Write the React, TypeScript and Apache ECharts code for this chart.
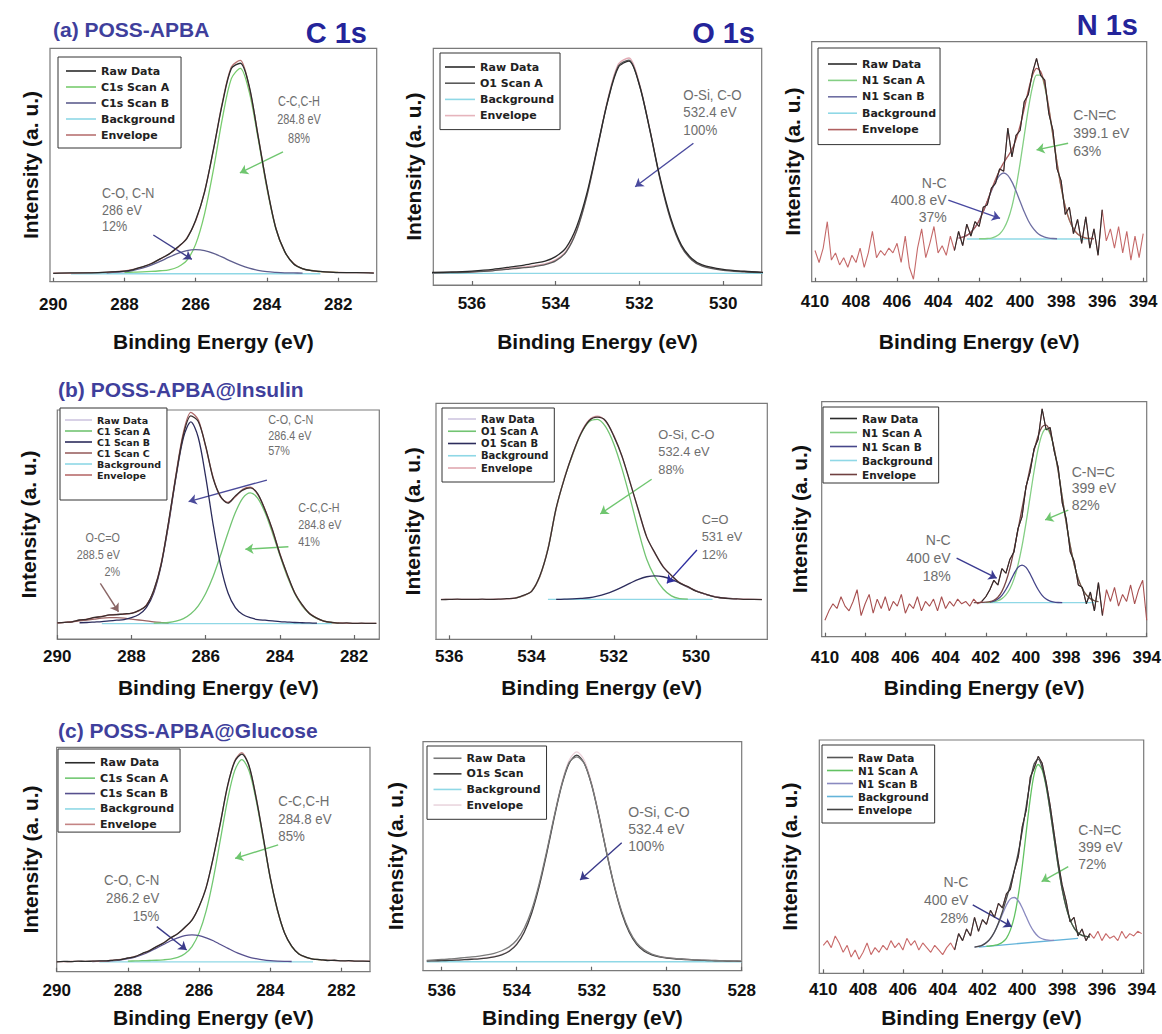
import React, { useEffect, useRef } from "react";
import * as echarts from "echarts";

// ---------------- tick labels ----------------
const C1S_TICKS = [290, 288, 286, 284, 282];
const O1S_TICKS_AB = [536, 534, 532, 530];
const O1S_TICKS_C = [536, 534, 532, 530, 528];
const N1S_TICKS = [410, 408, 406, 404, 402, 400, 398, 396, 394];

// ---------------- (a) POSS-APBA : C 1s ----------------
const C1S_A_X = [290, 289.5, 289, 288.5, 288, 287.75, 287.5, 287.25, 287, 286.75, 286.5, 286.25, 286, 285.75, 285.5, 285.25, 285, 284.75, 284.5, 284.25, 284, 283.75, 283.5, 283.25, 283, 282.75, 282.5, 282, 281.5, 281];
const C1S_A_RAW = [3.6, 3.8, 3.8, 4.1, 4.5, 5.2, 6.4, 7.7, 9.8, 11.8, 14.9, 18.5, 26.4, 38.5, 56.9, 76.4, 91.3, 93.6, 83.9, 62.4, 40.8, 22.8, 12.9, 7.6, 5.6, 4.7, 4.4, 3.9, 3.9, 3.7];
const C1S_A_SCAN_A = [null, null, null, null, 4.0, 4.1, 4.2, 4.4, 4.7, 5.1, 6.3, 9.1, 16.1, 29.2, 48.2, 70.1, 87.0, 91.4, 81.4, 61.5, 39.9, 22.7, 12.7, 7.7, 5.5, 4.8, 4.3, 4.0, null, null];
const C1S_A_SCAN_B = [null, null, null, 3.8, 4.3, 4.9, 5.8, 7.1, 8.7, 10.5, 12.1, 13.3, 13.7, 13.3, 12.1, 10.5, 8.7, 7.1, 5.8, 4.9, 4.3, 4.0, 3.8, 3.75, 3.7, null, null, null, null, null];
const C1S_A_ENV = [3.7, 3.7, 3.9, 4.0, 4.6, 5.3, 6.3, 7.8, 9.7, 11.9, 14.7, 18.7, 26.1, 38.8, 56.6, 76.9, 92.0, 94.8, 83.5, 62.7, 40.5, 23.0, 12.8, 7.8, 5.5, 4.8, 4.3, 4.0, 3.9, 3.8];
const C1S_A_BG_X = [289.5, 282.5];
const C1S_A_BG = [3.4, 3.4];

// ---------------- (a) POSS-APBA : O 1s ----------------
const O1S_A_X = [537, 536.5, 536, 535.5, 535, 534.75, 534.5, 534.25, 534, 533.75, 533.5, 533.25, 533, 532.75, 532.5, 532.25, 532, 531.75, 531.5, 531.25, 531, 530.75, 530.5, 530, 529.5, 529];
const O1S_A_RAW = [5.3, 5.5, 5.9, 6.6, 7.8, 8.4, 9.2, 10.1, 12.0, 15.8, 24.5, 39.0, 58.5, 78.0, 92.0, 94.6, 84.5, 65.5, 44.8, 28.2, 17.0, 11.2, 8.5, 6.6, 5.8, 5.3];
const O1S_A_SCAN_A = [5.0, 5.2, 5.5, 6.0, 6.9, 7.3, 7.8, 8.6, 10.2, 13.9, 22.7, 37.8, 57.9, 78.3, 92.6, 95.0, 84.6, 65.3, 44.1, 27.3, 16.3, 10.6, 8.0, 6.2, 5.6, 5.2];
const O1S_A_ENV = [5.1, 5.3, 5.6, 6.2, 7.2, 7.6, 8.2, 8.9, 10.6, 14.3, 23.1, 38.1, 58.2, 78.8, 93.4, 95.9, 85.2, 65.7, 44.4, 27.6, 16.5, 10.8, 8.2, 6.4, 5.7, 5.3];
const O1S_A_BG_X = [537, 529];
const O1S_A_BG = [4.9, 4.9];

// ---------------- N 1s shared energy grids ----------------
const N1S_X = [410, 409.8, 409.6, 409.4, 409.2, 409, 408.8, 408.6, 408.4, 408.2, 408, 407.8, 407.6, 407.4, 407.2, 407, 406.8, 406.6, 406.4, 406.2, 406, 405.8, 405.6, 405.4, 405.2, 405, 404.8, 404.6, 404.4, 404.2, 404, 403.8, 403.6, 403.4, 403.2, 403, 402.8, 402.6, 402.4, 402.2, 402, 401.8, 401.6, 401.4, 401.2, 401, 400.8, 400.6, 400.4, 400.2, 400, 399.8, 399.6, 399.4, 399.2, 399, 398.8, 398.6, 398.4, 398.2, 398, 397.8, 397.6, 397.4, 397.2, 397, 396.8, 396.6, 396.4, 396.2, 396, 395.8, 395.6, 395.4, 395.2, 395, 394.8, 394.6, 394.4, 394.2, 394];
const N1S_FIT_X = [403, 402.8, 402.6, 402.4, 402.2, 402, 401.8, 401.6, 401.4, 401.2, 401, 400.8, 400.6, 400.4, 400.2, 400, 399.8, 399.6, 399.4, 399.2, 399, 398.8, 398.6, 398.4, 398.2, 398, 397.8, 397.6, 397.4, 397.2, 397, 396.8, 396.6, 396.4];

// ---------------- (a) POSS-APBA : N 1s ----------------
const N1S_A_RAW = [13, 8, 14, 25, 9, 12, 7, 10, 6, 11, 8, 14, 6, 12, 21, 10, 13, 11, 14, 12, 16, 8, 19, 6, 1, 14, 22, 10, 16, 23, 12, 15, 11, 19, 13, 21, 15, 24, 19, 25, 23, 31, 32, 39, 41, 47, 46, 64, 52, 61, 63, 75, 78, 87, 93, 86, 84, 70, 63, 47, 42, 28, 31, 20, 26, 16, 27, 14, 22, 11, 30, 17, 22, 14, 23, 12, 21, 9, 19, 10, 20];
const N1S_A_ENV = [18.2, 18.6, 19.3, 20.6, 22.6, 25.4, 29.2, 33.6, 38.2, 42.6, 46.4, 49.6, 52.2, 55.1, 59.3, 65.0, 72.1, 79.6, 85.9, 88.9, 87.6, 81.9, 72.4, 61.0, 49.5, 39.3, 31.3, 25.7, 22.1, 19.9, 18.8, 18.2, 18.0, 17.9];
const N1S_A_SCAN_A = [null, null, null, null, null, 17.9, 17.9, 18.0, 18.2, 18.8, 19.9, 22.05, 25.7, 31.3, 39.3, 49.4, 60.8, 72.0, 81.1, 86.1, 86.1, 81.1, 72.0, 60.8, 49.4, 39.3, 31.3, 25.7, 22.05, 19.9, 18.8, 18.2, 18.0, null];
const N1S_A_SCAN_B = [18.2, 18.6, 19.3, 20.6, 22.6, 25.4, 29.1, 33.4, 37.8, 41.6, 44.3, 45.3, 44.3, 41.6, 37.8, 33.4, 29.1, 25.4, 22.6, 20.6, 19.3, 18.6, 18.2, 18.0, 17.9, null, null, null, null, null, null, null, null, null];
const N1S_A_BG_X = [402.6, 396.6];
const N1S_A_BG = [17.8, 17.8];

// ---------------- (b) POSS-APBA@Insulin : C 1s ----------------
const C1S_B_X = [290, 289.8, 289.6, 289.4, 289.2, 289, 288.8, 288.6, 288.4, 288.2, 288, 287.8, 287.6, 287.4, 287.2, 287, 286.8, 286.6, 286.4, 286.2, 286, 285.8, 285.6, 285.4, 285.2, 285, 284.8, 284.6, 284.4, 284.2, 284, 283.8, 283.6, 283.4, 283.2, 283, 282.8, 282.6, 282.4, 282.2, 282, 281.8, 281.6, 281.4];
const C1S_B_RAW = [7.0, 7.3, 7.5, 8.3, 8.6, 9.4, 9.8, 10.5, 10.6, 11.0, 11.2, 12.5, 14.6, 21.3, 32.6, 51.2, 71.4, 89.2, 97.4, 95.0, 84.3, 70.2, 62.3, 59.3, 62.5, 65.0, 66.0, 63.5, 56.3, 47.7, 37.0, 28.2, 20.1, 15.0, 11.0, 9.1, 7.7, 7.3, 6.9, 7.0, 6.8, 6.9, 6.8, 6.8];
const C1S_B_SCAN_A = [null, null, null, null, null, null, null, null, null, null, null, null, null, 6.9, 7.0, 7.2, 7.8, 8.9, 11.0, 14.5, 19.9, 27.3, 36.5, 46.3, 55.2, 61.5, 63.8, 61.5, 55.2, 46.3, 36.5, 27.3, 19.9, 14.5, 11.0, 8.9, 7.8, 7.2, 7.0, null, null, null, null, null];
const C1S_B_SCAN_B = [null, null, null, 7.1, 7.2, 7.4, 7.6, 7.9, 8.2, 8.5, 9.3, 10.7, 13.7, 20.2, 32.3, 50.1, 70.8, 88.0, 94.8, 88.0, 70.8, 50.1, 32.3, 20.2, 13.7, 10.7, 9.3, 8.5, 8.2, 7.9, 7.6, 7.4, 7.2, 7.1, 7.0, 6.9, null, null, null, null, null, null, null, null];
const C1S_B_SCAN_C = [7.05, 7.25, 7.5, 7.9, 8.3, 8.7, 9.1, 9.3, 9.3, 9.1, 8.7, 8.3, 7.9, 7.5, 7.25, 7.05, null, null, null, null, null, null, null, null, null, null, null, null, null, null, null, null, null, null, null, null, null, null, null, null, null, null, null, null];
const C1S_B_ENV = [7.05, 7.25, 7.53, 8.2, 8.7, 9.3, 9.9, 10.4, 10.7, 10.8, 11.3, 12.3, 14.8, 21.0, 33.0, 50.8, 71.9, 90.2, 99.0, 95.7, 83.9, 70.6, 62.0, 59.7, 62.1, 65.4, 66.3, 63.2, 56.6, 47.4, 37.3, 27.9, 20.3, 14.8, 11.2, 9.0, 7.8, 7.2, 7.0, 6.9, 6.8, 6.8, 6.8, 6.8];
const C1S_B_BG_X = [288.8, 282.6];
const C1S_B_BG = [6.7, 6.7];

// ---------------- (b) POSS-APBA@Insulin : O 1s ----------------
const O1S_B_X = [536.2, 536, 535.8, 535.6, 535.4, 535.2, 535, 534.8, 534.6, 534.4, 534.2, 534, 533.8, 533.6, 533.4, 533.2, 533, 532.8, 532.6, 532.4, 532.2, 532, 531.8, 531.6, 531.4, 531.2, 531, 530.8, 530.6, 530.4, 530.2, 530, 529.8, 529.6, 529.4, 529.2, 529, 528.8, 528.6, 528.4];
const O1S_B_RAW = [16.8, 16.9, 17.0, 16.9, 16.9, 17.0, 16.9, 17.0, 17.2, 17.4, 18.6, 20.2, 26.7, 38.1, 55.7, 68.1, 78.6, 87.1, 92.6, 94.1, 92.6, 86.1, 77.6, 66.2, 54.7, 43.3, 36.6, 30.7, 27.1, 23.9, 22.3, 20.4, 19.3, 18.2, 17.6, 17.2, 17.1, 16.9, 16.9, 16.8];
const O1S_B_SCAN_A = [null, null, null, null, null, null, null, null, null, 17.5, 18.4, 20.4, 26.4, 38.4, 55.4, 68.3, 78.2, 87.0, 92.2, 93.2, 90.1, 82.8, 72.2, 59.5, 45.9, 33.9, 26.4, 21.3, 18.4, 17.2, 17.0, null, null, null, null, null, null, null, null, null];
const O1S_B_SCAN_B = [null, null, null, null, null, null, null, null, null, null, null, null, null, null, 16.9, 17.0, 17.1, 17.3, 17.6, 18.25, 19.2, 20.5, 22.1, 23.8, 25.4, 26.5, 26.9, 26.5, 25.4, 23.8, 22.1, 20.5, 19.2, 18.25, 17.6, 17.3, 17.1, null, null, null];
const O1S_B_ENV = [16.9, 16.9, 16.9, 16.9, 16.9, 16.9, 16.95, 17.0, 17.1, 17.5, 18.4, 20.4, 26.4, 38.4, 55.4, 68.4, 78.4, 87.4, 92.9, 94.6, 92.4, 86.4, 77.4, 66.4, 54.4, 43.5, 36.4, 30.9, 26.9, 24.1, 22.2, 20.5, 19.2, 18.25, 17.6, 17.3, 17.1, 17.0, 16.9, 16.9];
const O1S_B_BG_X = [533.6, 529.6];
const O1S_B_BG = [16.9, 16.9];

// ---------------- (b) POSS-APBA@Insulin : N 1s ----------------
const N1S_B_RAW = [7, 11, 14, 12, 17, 13, 11, 15, 20, 9, 14, 18, 10, 16, 12, 17, 11, 15, 13, 18, 10, 14, 12, 17, 11, 15, 13, 16, 11, 17, 12, 15, 13, 16, 14, 15, 13, 16, 14, 15, 17, 20, 24, 22, 29, 27, 33, 36, 46, 51, 64, 70, 80, 84, 97, 88, 89, 79, 72, 57, 50, 36, 32, 22, 21, 14, 19, 11, 23, 9, 20, 15, 21, 13, 18, 15, 22, 14, 20, 24, 7];
const N1S_B_ENV = [null, null, 14.5, 14.5, 14.6, 14.7, 14.9, 15.5, 16.8, 19.3, 23.4, 29.2, 36.8, 45.5, 54.5, 63.4, 71.7, 79.2, 85.4, 89.3, 90.0, 86.8, 80.0, 70.4, 59.4, 48.4, 38.5, 30.5, 24.5, 20.4, 17.8, 16.2, 15.3, 14.9];
const N1S_B_SCAN_A = [null, null, null, null, null, 14.6, 14.65, 14.9, 15.3, 16.2, 17.8, 20.4, 24.5, 30.5, 38.5, 48.4, 59.4, 70.4, 79.8, 86.2, 88.5, 86.2, 79.8, 70.4, 59.4, 48.4, 38.5, 30.5, 24.5, 20.4, 17.8, 16.2, 15.3, 14.9];
const N1S_B_SCAN_B = [null, null, null, null, null, null, 14.7, 15.1, 16.0, 17.6, 20.1, 23.3, 26.8, 29.5, 30.5, 29.5, 26.8, 23.3, 20.1, 17.6, 16.0, 15.1, 14.7, 14.55, 14.5, null, null, null, null, null, null, null, null, null];
const N1S_B_BG_X = [402.2, 396.6];
const N1S_B_BG = [14.5, 14.5];

// ---------------- (c) POSS-APBA@Glucose : C 1s ----------------
const C1S_C_X = [290, 289.8, 289.6, 289.4, 289.2, 289, 288.8, 288.6, 288.4, 288.2, 288, 287.8, 287.6, 287.4, 287.2, 287, 286.8, 286.6, 286.4, 286.2, 286, 285.8, 285.6, 285.4, 285.2, 285, 284.8, 284.6, 284.4, 284.2, 284, 283.8, 283.6, 283.4, 283.2, 283, 282.8, 282.6, 282.4, 282.2, 282, 281.8, 281.6, 281.4, 281.2];
const C1S_C_RAW = [4.4, 4.6, 4.5, 4.7, 4.6, 4.7, 4.8, 4.8, 5.2, 5.4, 6.1, 6.7, 8.1, 9.3, 11.2, 12.8, 15.1, 16.9, 19.8, 23.0, 29.1, 37.6, 51.1, 66.4, 82.9, 93.6, 97.0, 91.9, 77.6, 60.1, 41.7, 27.6, 17.2, 11.4, 7.9, 6.5, 5.6, 5.4, 5.0, 5.1, 4.8, 4.9, 4.7, 4.7, 4.6];
const C1S_C_SCAN_A = [null, null, null, null, null, null, null, null, null, null, 4.75, 4.8, 4.9, 5.0, 5.1, 5.3, 5.65, 6.4, 8.0, 11.2, 17.3, 27.2, 41.5, 59.1, 76.6, 89.6, 94.5, 89.6, 76.6, 59.1, 41.5, 27.2, 17.3, 11.2, 8.0, 6.4, 5.65, 5.3, 5.1, null, null, null, null, null, null];
const C1S_C_SCAN_B = [null, null, null, null, null, 4.55, 4.6, 4.7, 4.9, 5.25, 5.8, 6.5, 7.6, 8.9, 10.5, 12.1, 13.8, 15.1, 16.1, 16.4, 16.1, 15.1, 13.8, 12.1, 10.5, 8.9, 7.6, 6.5, 5.8, 5.25, 4.9, 4.7, 4.6, 4.55, null, null, null, null, null, null, null, null, null, null, null];
const C1S_C_ENV = [4.5, 4.5, 4.55, 4.6, 4.6, 4.65, 4.7, 4.85, 5.1, 5.45, 6.05, 6.8, 8.0, 9.4, 11.1, 12.9, 15.0, 17.0, 19.6, 23.1, 28.9, 37.8, 50.8, 66.7, 82.6, 94.0, 97.6, 91.6, 77.9, 59.85, 41.9, 27.4, 17.4, 11.25, 8.0, 6.4, 5.65, 5.3, 5.1, 5.0, 4.9, 4.8, 4.75, 4.7, 4.7];
const C1S_C_BG_X = [288.8, 282.8];
const C1S_C_BG = [4.4, 4.4];

// ---------------- (c) POSS-APBA@Glucose : O 1s ----------------
const O1S_C_X = [536.4, 536.2, 536, 535.8, 535.6, 535.4, 535.2, 535, 534.8, 534.6, 534.4, 534.2, 534, 533.8, 533.6, 533.4, 533.2, 533, 532.8, 532.6, 532.4, 532.2, 532, 531.8, 531.6, 531.4, 531.2, 531, 530.8, 530.6, 530.4, 530.2, 530, 529.8, 529.6, 529.4, 529.2, 529, 528.8, 528.6, 528.4, 528.2, 528];
const O1S_C_RAW = [4.5, 4.7, 4.9, 5.1, 5.4, 5.7, 6.0, 6.4, 6.9, 7.6, 8.7, 10.4, 13.4, 18.5, 26.6, 38.1, 52.2, 67.5, 81.3, 91.0, 93.4, 90.5, 81.1, 67.1, 51.5, 37.4, 25.9, 17.5, 12.1, 9.1, 7.3, 6.3, 5.7, 5.4, 5.1, 4.9, 4.7, 4.6, 4.5, 4.4, 4.3, 4.2, 4.2];
const O1S_C_SCAN = [4.2, 4.3, 4.4, 4.5, 4.6, 4.8, 5.0, 5.2, 5.5, 6.0, 6.9, 8.5, 11.5, 16.8, 25.2, 36.9, 51.2, 66.8, 80.9, 90.6, 94.1, 90.6, 80.9, 66.8, 51.2, 36.9, 25.2, 16.8, 11.5, 8.5, 6.9, 6.0, 5.5, 5.2, 5.0, 4.8, 4.6, 4.5, 4.4, 4.3, 4.2, 4.15, 4.1];
const O1S_C_ENV = [4.3, 4.4, 4.5, 4.6, 4.75, 4.9, 5.1, 5.4, 5.7, 6.2, 7.1, 8.8, 11.8, 17.1, 25.5, 37.2, 51.6, 67.4, 81.8, 91.9, 95.6, 91.9, 81.8, 67.4, 51.6, 37.2, 25.5, 17.1, 11.8, 8.8, 7.1, 6.2, 5.7, 5.4, 5.1, 4.9, 4.75, 4.6, 4.5, 4.4, 4.3, 4.25, 4.2];
const O1S_C_BG_X = [536.4, 528];
const O1S_C_BG = [3.9, 3.9];

// ---------------- (c) POSS-APBA@Glucose : N 1s ----------------
const N1S_C_RAW = [12, 14, 11, 16, 13, 9, 12, 7, 10, 6, 9, 13, 8, 11, 9, 12, 10, 14, 11, 13, 10, 15, 12, 14, 10, 13, 11, 9, 12, 10, 8, 11, 13, 10, 17, 14, 19, 16, 24, 18, 23, 21, 27, 24, 30, 28, 34, 36, 44, 50, 63, 70, 84, 88, 93, 90, 82, 72, 60, 48, 38, 31, 22, 24, 16, 19, 14, 17, 15, 18, 14, 17, 15, 16, 14, 18, 15, 17, 16, 18, 17];
const N1S_C_ENV = [null, null, null, 11.2, 11.5, 12.1, 13.2, 15.0, 17.7, 21.6, 26.4, 31.9, 37.9, 44.2, 51.8, 61.1, 71.8, 82.2, 89.8, 91.8, 88.2, 80.5, 69.7, 57.85, 46.25, 36.2, 28.45, 23.0, 19.45, 17.4, 16.25, 15.8, 15.65, null];
const N1S_C_SCAN_A = [null, null, null, null, null, null, 11.6, 11.75, 12.0, 12.4, 13.3, 15.0, 18.5, 24.3, 33.5, 46.0, 60.7, 74.9, 85.5, 89.5, 87.1, 80.0, 69.6, 57.8, 46.25, 36.2, 28.45, 23.0, 19.45, 17.4, 16.25, 15.8, 15.65, null];
const N1S_C_SCAN_B = [null, null, null, 11.2, 11.5, 12.1, 13.2, 14.9, 17.6, 21.2, 25.3, 29.2, 31.9, 32.5, 31.1, 28.0, 24.2, 20.5, 17.7, 15.8, 14.8, 14.3, 14.1, 14.15, null, null, null, null, null, null, null, null, null, null];
const N1S_C_BG_X = [402.2, 397.2];
const N1S_C_BG = [11.25, 15.0];

// ---------------- styling / layout ----------------
const FONT = '"Liberation Sans", Arial, Helvetica, sans-serif';
const LFONT = '"DejaVu Sans", "Liberation Sans", sans-serif';
const BG_C = "#8fd8e6";
const GREEN_ARROW = "#6fc66f";
const NOTE_C = "#6e6e6e";

type Curve = { name: string; xs: number[]; ys: (number | null)[]; color: string; noisy?: boolean; range?: [number, number]; width?: number };

const PANELS: any[] = [
  {
    grid: { left: 50, top: 48.3, width: 326.7, height: 233.4 }, x: [280.92, 290.09], ticks: C1S_TICKS, labelMargin: 14, xNameGap: 48.8, yNameGap: 9,
    curves: [
      { name: "Background", xs: C1S_A_BG_X, ys: C1S_A_BG, color: BG_C },
      { name: "C1s Scan A", xs: C1S_A_X, ys: C1S_A_SCAN_A, color: "#78cc6e" },
      { name: "C1s Scan B", xs: C1S_A_X, ys: C1S_A_SCAN_B, color: "#5e5e8e" },
      { name: "Envelope", xs: C1S_A_X, ys: C1S_A_ENV, color: "#b87272" },
      { name: "Raw Data", xs: C1S_A_X, ys: C1S_A_RAW, color: "#2b2b2b" },
    ],
    legend: { left: 58, top: 57, padding: [8, 6, 7, 8], iw: 30, gap: 4, fs: 11, lh: 12,
      items: [["Raw Data", "#2b2b2b"], ["C1s Scan A", "#78cc6e"], ["C1s Scan B", "#5e5e8e"], ["Background", BG_C], ["Envelope", "#b87272"]] },
    arrows: [
      { from: [283.55, 55.6], to: [284.76, 46.6], color: GREEN_ARROW },
      { from: [287.19, 20.0], to: [286.11, 9.6], color: "#3e3e8a" },
    ],
    notes: [
      { text: "C-C,C-H\n284.8 eV\n88%", x: 299, y: 101.7, align: "center", lh: 18.3, fs: 14, sx: 0.78 },
      { text: "C-O, C-N\n286 eV\n12%", x: 102, y: 193.3, align: "left", lh: 16.7, fs: 14, sx: 0.9 },
    ],
  },
  {
    grid: { left: 433.3, top: 48.3, width: 328.4, height: 236.7 }, x: [529.08, 536.92], ticks: O1S_TICKS_AB, labelMargin: 10, xNameGap: 45.5, yNameGap: 9,
    curves: [
      { name: "Background", xs: O1S_A_BG_X, ys: O1S_A_BG, color: BG_C },
      { name: "Envelope", xs: O1S_A_X, ys: O1S_A_ENV, color: "#e2aab4" },
      { name: "O1 Scan A", xs: O1S_A_X, ys: O1S_A_SCAN_A, color: "#5a5a5a" },
      { name: "Raw Data", xs: O1S_A_X, ys: O1S_A_RAW, color: "#2b2b2b" },
    ],
    legend: { left: 440, top: 53, padding: [8, 6, 8, 5], iw: 30, gap: 4.2, fs: 11, lh: 12,
      items: [["Raw Data", "#2b2b2b"], ["O1 Scan A", "#5a5a5a"], ["Background", BG_C], ["Envelope", "#e6b4bc"]] },
    arrows: [{ from: [530.71, 59.9], to: [532.1, 41.5], color: "#4a4a9e" }],
    notes: [{ text: "O-Si, C-O\n532.4 eV\n100%", x: 683.3, y: 95, align: "left", lh: 17.5, fs: 14, sx: 0.95 }],
  },
  {
    grid: { left: 811.7, top: 41.7, width: 335, height: 240 }, x: [393.83, 410.16], ticks: N1S_TICKS, labelMargin: 11, xNameGap: 48.8, yNameGap: 9,
    curves: [
      { name: "Raw Data", xs: N1S_X, ys: N1S_A_RAW, color: "#c56a6a", noisy: true, width: 1.1 },
      { name: "Background", xs: N1S_A_BG_X, ys: N1S_A_BG, color: BG_C },
      { name: "N1 Scan A", xs: N1S_FIT_X, ys: N1S_A_SCAN_A, color: "#84cf84" },
      { name: "N1 Scan B", xs: N1S_FIT_X, ys: N1S_A_SCAN_B, color: "#6e6ea2" },
      { name: "Envelope", xs: N1S_FIT_X, ys: N1S_A_ENV, color: "#a85a5a" },
      { name: "Raw Data", xs: N1S_X, ys: N1S_A_RAW, color: "#2b2b2b", noisy: true, range: [396.0, 403.2], width: 1.1 },
    ],
    legend: { left: 818, top: 48, padding: [10, 4, 9, 10], iw: 29, gap: 4.4, fs: 11, lh: 12,
      items: [["Raw Data", "#2b2b2b"], ["N1 Scan A", "#84cf84"], ["N1 Scan B", "#6e6ea2"], ["Background", BG_C], ["Envelope", "#b06060"]] },
    arrows: [
      { from: [397.66, 57.7], to: [399.2, 54.9], color: GREEN_ARROW },
      { from: [403.5, 34.0], to: [400.98, 26.4], color: "#4848a0" },
    ],
    notes: [
      { text: "C-N=C\n399.1 eV\n63%", x: 1073.3, y: 115, align: "left", lh: 17.8, fs: 14, sx: 1 },
      { text: "N-C\n400.8 eV\n37%", x: 946.7, y: 183.3, align: "right", lh: 16.7, fs: 14, sx: 1 },
    ],
  },
  {
    grid: { left: 57.3, top: 410, width: 322, height: 229 }, x: [281.32, 290], ticks: C1S_TICKS, labelMargin: 9, xNameGap: 37.5, yNameGap: 18,
    curves: [
      { name: "Background", xs: C1S_B_BG_X, ys: C1S_B_BG, color: BG_C },
      { name: "C1 Scan C", xs: C1S_B_X, ys: C1S_B_SCAN_C, color: "#9a6262" },
      { name: "C1 Scan A", xs: C1S_B_X, ys: C1S_B_SCAN_A, color: "#72c472" },
      { name: "C1 Scan B", xs: C1S_B_X, ys: C1S_B_SCAN_B, color: "#2c2c5c" },
      { name: "Envelope", xs: C1S_B_X, ys: C1S_B_ENV, color: "#b06a6a" },
      { name: "Raw Data", xs: C1S_B_X, ys: C1S_B_RAW, color: "#3a2e2e" },
    ],
    legend: { left: 60, top: 408, padding: [7, 6, 20, 5], iw: 27, gap: 1, fs: 9.5, lh: 8,
      items: [["Raw Data", "#cfc6e0"], ["C1 Scan A", "#72c472"], ["C1 Scan B", "#2c2c5c"], ["C1 Scan C", "#9a6262"], ["Background", BG_C], ["Envelope", "#b86c6c"]] },
    arrows: [
      { from: [284.35, 69.4], to: [286.46, 60.0], color: "#4a4a9a" },
      { from: [283.77, 40.3], to: [284.93, 39.2], color: GREEN_ARROW },
      { from: [288.84, 24.3], to: [288.35, 11.9], color: "#8a6666" },
    ],
    notes: [
      { text: "C-O, C-N\n286.4 eV\n57%", x: 268.3, y: 420, align: "left", lh: 15.5, fs: 12, sx: 0.9 },
      { text: "C-C,C-H\n284.8 eV\n41%", x: 298.3, y: 508.3, align: "left", lh: 16.7, fs: 12, sx: 0.9 },
      { text: "O-C=O\n288.5 eV\n2%", x: 120, y: 538.3, align: "right", lh: 16.7, fs: 12, sx: 0.9 },
    ],
  },
  {
    grid: { left: 436, top: 403.3, width: 331.3, height: 236 }, x: [528.27, 536.32], ticks: O1S_TICKS_AB, labelMargin: 9, xNameGap: 37.2, yNameGap: 13.5,
    curves: [
      { name: "Background", xs: O1S_B_BG_X, ys: O1S_B_BG, color: BG_C },
      { name: "O1 Scan A", xs: O1S_B_X, ys: O1S_B_SCAN_A, color: "#72c472" },
      { name: "O1 Scan B", xs: O1S_B_X, ys: O1S_B_SCAN_B, color: "#2c2c5c" },
      { name: "Envelope", xs: O1S_B_X, ys: O1S_B_ENV, color: "#d89aa4" },
      { name: "Raw Data", xs: O1S_B_X, ys: O1S_B_RAW, color: "#3a2e2e" },
    ],
    legend: { left: 442, top: 408, padding: [6, 6, 9, 6], iw: 28, gap: 2.25, fs: 10, lh: 10,
      items: [["Raw Data", "#cfc6e0"], ["O1 Scan A", "#72c472"], ["O1 Scan B", "#2c2c5c"], ["Background", BG_C], ["Envelope", "#e0a8b0"]] },
    arrows: [
      { from: [531.08, 67.8], to: [532.33, 53.1], color: GREEN_ARROW },
      { from: [529.98, 37.8], to: [530.71, 23.7], color: "#2e2ea0" },
    ],
    notes: [
      { text: "O-Si, C-O\n532.4 eV\n88%", x: 658.3, y: 434.3, align: "left", lh: 17.5, fs: 13.5, sx: 0.95 },
      { text: "C=O\n531 eV\n12%", x: 701.7, y: 519.3, align: "left", lh: 17.5, fs: 13.5, sx: 0.95 },
    ],
  },
  {
    grid: { left: 821.7, top: 401.7, width: 325, height: 235 }, x: [394, 410.16], ticks: N1S_TICKS, labelMargin: 12, xNameGap: 39.8, yNameGap: 12,
    curves: [
      { name: "Raw Data", xs: N1S_X, ys: N1S_B_RAW, color: "#a85050", noisy: true, width: 1.1 },
      { name: "Background", xs: N1S_B_BG_X, ys: N1S_B_BG, color: BG_C },
      { name: "N1 Scan A", xs: N1S_FIT_X, ys: N1S_B_SCAN_A, color: "#84cf84" },
      { name: "N1 Scan B", xs: N1S_FIT_X, ys: N1S_B_SCAN_B, color: "#46468a" },
      { name: "Envelope", xs: N1S_FIT_X, ys: N1S_B_ENV, color: "#7a4848" },
      { name: "Raw Data", xs: N1S_X, ys: N1S_B_RAW, color: "#2b2b2b", noisy: true, range: [396.2, 402.2], width: 1.1 },
    ],
    legend: { left: 823, top: 407, padding: [6, 6, 3, 7], iw: 27, gap: 3, fs: 10.5, lh: 11,
      items: [["Raw Data", "#2b2b2b"], ["N1 Scan A", "#84cf84"], ["N1 Scan B", "#46468a"], ["Background", BG_C], ["Envelope", "#704040"]] },
    arrows: [
      { from: [397.9, 53.9], to: [399.05, 49.7], color: GREEN_ARROW },
      { from: [403.45, 33.4], to: [401.46, 24.9], color: "#3a3a90" },
    ],
    notes: [
      { text: "C-N=C\n399 eV\n82%", x: 1071.7, y: 471.7, align: "left", lh: 16.7, fs: 14, sx: 1 },
      { text: "N-C\n400 eV\n18%", x: 950.7, y: 540, align: "right", lh: 18, fs: 14, sx: 1 },
    ],
  },
  {
    grid: { left: 56.7, top: 747.3, width: 313.3, height: 224.4 }, x: [281.2, 290], ticks: C1S_TICKS, labelMargin: 10, xNameGap: 35.3, yNameGap: 15.5,
    curves: [
      { name: "Background", xs: C1S_C_BG_X, ys: C1S_C_BG, color: BG_C },
      { name: "C1s Scan A", xs: C1S_C_X, ys: C1S_C_SCAN_A, color: "#72c872" },
      { name: "C1s Scan B", xs: C1S_C_X, ys: C1S_C_SCAN_B, color: "#56508e" },
      { name: "Envelope", xs: C1S_C_X, ys: C1S_C_ENV, color: "#c48484" },
      { name: "Raw Data", xs: C1S_C_X, ys: C1S_C_RAW, color: "#2b2b2b" },
    ],
    legend: { left: 58, top: 749, padding: [8, 6, 2, 7], iw: 30, gap: 3.9, fs: 11, lh: 11.5,
      items: [["Raw Data", "#2b2b2b"], ["C1s Scan A", "#72c872"], ["C1s Scan B", "#56508e"], ["Background", BG_C], ["Envelope", "#c48484"]] },
    arrows: [
      { from: [283.78, 56.5], to: [284.99, 50.5], color: GREEN_ARROW },
      { from: [287.19, 20.1], to: [286.35, 9.7], color: "#3a3a8a" },
    ],
    notes: [
      { text: "C-C,C-H\n284.8 eV\n85%", x: 278.3, y: 801.7, align: "left", lh: 17.5, fs: 14, sx: 0.95 },
      { text: "C-O, C-N\n286.2 eV\n15%", x: 159.3, y: 880.7, align: "right", lh: 18, fs: 14, sx: 0.95 },
    ],
  },
  {
    grid: { left: 423, top: 741.7, width: 318.7, height: 229 }, x: [528, 536.5], ticks: O1S_TICKS_C, labelMargin: 11, xNameGap: 36.3, yNameGap: 17.5,
    curves: [
      { name: "Background", xs: O1S_C_BG_X, ys: O1S_C_BG, color: BG_C },
      { name: "Envelope", xs: O1S_C_X, ys: O1S_C_ENV, color: "#ecd2da" },
      { name: "O1s Scan", xs: O1S_C_X, ys: O1S_C_SCAN, color: "#3e3e3e" },
      { name: "Raw Data", xs: O1S_C_X, ys: O1S_C_RAW, color: "#7a7a7a" },
    ],
    legend: { left: 427, top: 746, padding: [6.5, 6, 8.5, 6.5], iw: 28, gap: 4.1, fs: 11, lh: 11.5,
      items: [["Raw Data", "#7a7a7a"], ["O1s Scan", "#3e3e3e"], ["Background", BG_C], ["Envelope", "#ead6de"]] },
    arrows: [{ from: [531.2, 55.9], to: [532.31, 39.6], color: "#3a3a8a" }],
    notes: [{ text: "O-Si, C-O\n532.4 eV\n100%", x: 628.3, y: 811.7, align: "left", lh: 17.2, fs: 14, sx: 1 }],
  },
  {
    grid: { left: 819.3, top: 740, width: 324.4, height: 233.3 }, x: [393.9, 410.2], ticks: N1S_TICKS, labelMargin: 8, xNameGap: 33.7, yNameGap: 19,
    curves: [
      { name: "Raw Data", xs: N1S_X, ys: N1S_C_RAW, color: "#c86a6a", noisy: true, width: 1.1 },
      { name: "Background", xs: N1S_C_BG_X, ys: N1S_C_BG, color: "#64b4da" },
      { name: "N1 Scan A", xs: N1S_FIT_X, ys: N1S_C_SCAN_A, color: "#62c262" },
      { name: "N1 Scan B", xs: N1S_FIT_X, ys: N1S_C_SCAN_B, color: "#8a8ac0" },
      { name: "Envelope", xs: N1S_FIT_X, ys: N1S_C_ENV, color: "#4a4a4a" },
      { name: "Raw Data", xs: N1S_X, ys: N1S_C_RAW, color: "#333333", noisy: true, range: [396.6, 403.4], width: 1.1 },
    ],
    legend: { left: 822, top: 745, padding: [7, 6, 8, 5], iw: 26, gap: 2, fs: 10.5, lh: 10,
      items: [["Raw Data", "#555555"], ["N1 Scan A", "#62c262"], ["N1 Scan B", "#8a8ac0"], ["Background", "#64b4da"], ["Envelope", "#444444"]] },
    arrows: [
      { from: [397.69, 45.7], to: [399.03, 39.3], color: GREEN_ARROW },
      { from: [402.49, 29.3], to: [400.53, 20.0], color: "#3a3a8a" },
    ],
    notes: [
      { text: "C-N=C\n399 eV\n72%", x: 1078.3, y: 830, align: "left", lh: 17, fs: 14, sx: 1 },
      { text: "N-C\n400 eV\n28%", x: 968.3, y: 881.7, align: "right", lh: 18, fs: 14, sx: 1 },
    ],
  },
];

const TITLES = [
  { text: "(a) POSS-APBA", x: 53, y: 29, align: "left", fs: 21, color: "#3f3f9c" },
  { text: "(b) POSS-APBA@Insulin", x: 58, y: 389, align: "left", fs: 21, color: "#3f3f9c" },
  { text: "(c) POSS-APBA@Glucose", x: 58, y: 730, align: "left", fs: 21, color: "#3f3f9c" },
  { text: "C 1s", x: 367, y: 32.5, align: "right", fs: 29, color: "#24249a" },
  { text: "O 1s", x: 755, y: 33, align: "right", fs: 29, color: "#24249a" },
  { text: "N 1s", x: 1138, y: 25, align: "right", fs: 29, color: "#24249a" },
];

function pairs(xs: number[], ys: (number | null)[], range?: [number, number]) {
  const out: number[][] = [];
  for (let i = 0; i < xs.length; i++) {
    const y = ys[i];
    if (y === null || y === undefined) continue;
    if (range && (xs[i] < range[0] || xs[i] > range[1])) continue;
    out.push([xs[i], y]);
  }
  return out;
}

function buildOption() {
  const grid: any[] = [];
  const xAxis: any[] = [];
  const yAxis: any[] = [];
  const legend: any[] = [];
  const series: any[] = [];
  const elements: any[] = [];
  const nameStyle = { fontFamily: FONT, fontSize: 21, fontWeight: "bold", color: "#111" };

  PANELS.forEach((p, i) => {
    grid.push({ ...p.grid, show: true, borderColor: "#7a7a7a", borderWidth: 1.2, backgroundColor: "transparent", containLabel: false, outerBoundsMode: "none" });
    xAxis.push({
      type: "value", gridIndex: i, min: p.x[0], max: p.x[1], inverse: true,
      name: "Binding Energy (eV)", nameLocation: "middle", nameGap: p.xNameGap, nameMoveOverlap: false, nameTextStyle: nameStyle,
      axisLine: { show: true, onZero: false, lineStyle: { color: "#7a7a7a", width: 1.2 } },
      axisTick: { show: true, inside: true, length: 4, customValues: p.ticks, lineStyle: { color: "#666", width: 1.2 } },
      axisLabel: { show: true, customValues: p.ticks, margin: p.labelMargin, fontFamily: FONT, fontSize: 17, fontWeight: "bold", color: "#111" },
      splitLine: { show: false }, minorTick: { show: false },
    });
    yAxis.push({
      type: "value", gridIndex: i, min: 0, max: 100,
      name: "Intensity (a. u.)", nameLocation: "middle", nameGap: p.yNameGap, nameMoveOverlap: false, nameTextStyle: nameStyle,
      axisLine: { show: false }, axisTick: { show: false }, axisLabel: { show: false }, splitLine: { show: false },
    });
    const L = p.legend;
    legend.push({
      show: true, orient: "vertical", align: "left", left: L.left, top: L.top, padding: L.padding,
      itemGap: L.gap, itemWidth: L.iw, itemHeight: 1.6, icon: "rect", selectedMode: false,
      borderColor: "#333", borderWidth: 1, borderRadius: 0, backgroundColor: "#fff",
      textStyle: { fontFamily: LFONT, fontSize: L.fs, lineHeight: L.lh, fontWeight: "bold", color: "#222" },
      data: L.items.map((it: string[]) => ({ name: it[0], itemStyle: { color: it[1], borderWidth: 0 }, lineStyle: { color: it[1] } })),
    });
    const curves: Curve[] = p.curves;
    curves.forEach((c, k) => {
      const s: any = {
        type: "line", name: c.name, xAxisIndex: i, yAxisIndex: i,
        data: pairs(c.xs, c.ys, c.range), symbol: "none", showSymbol: false,
        smooth: c.noisy ? false : 0.3, lineStyle: { color: c.color, width: c.width ?? 1.3 },
        itemStyle: { color: c.color }, silent: true, animation: false, emphasis: { disabled: true }, z: 2 + k,
      };
      if (k === curves.length - 1) {
        s.markLine = {
          silent: true, animation: false, symbol: ["none", "arrow"], symbolSize: 8,
          label: { show: false }, emphasis: { disabled: true },
          lineStyle: { type: "solid", width: 1.4 },
          data: p.arrows.map((a: any) => [
            { coord: a.from, lineStyle: { color: a.color, type: "solid", width: 1.4 }, itemStyle: { color: a.color } },
            { coord: a.to },
          ]),
        };
      }
      series.push(s);
    });
    p.notes.forEach((n: any) => {
      elements.push({
        type: "text", x: n.x, y: n.y - n.lh / 2, scaleX: n.sx, silent: true, z: 100,
        style: { text: n.text, fill: NOTE_C, fontFamily: FONT, fontSize: n.fs, lineHeight: n.lh, align: n.align, textAlign: n.align, verticalAlign: "top", textVerticalAlign: "top" },
      });
    });
  });

  TITLES.forEach((t) => {
    elements.push({
      type: "text", x: t.x, y: t.y, silent: true, z: 100,
      style: { text: t.text, fill: t.color, fontFamily: FONT, fontSize: t.fs, fontWeight: "bold", align: t.align, textAlign: t.align, verticalAlign: "middle", textVerticalAlign: "middle" },
    });
  });

  return { animation: false, backgroundColor: "#ffffff", grid, xAxis, yAxis, legend, series, graphic: { elements } };
}

export default function App() {
  const ref = useRef<HTMLDivElement>(null);
  useEffect(() => {
    document.body.style.margin = "0";
    if (!ref.current) return;
    const chart = echarts.init(ref.current, undefined, { renderer: "svg", width: 1162, height: 1034 });
    chart.setOption(buildOption() as any);
    return () => chart.dispose();
  }, []);
  return <div ref={ref} style={{ width: 1162, height: 1034, background: "#fff" }} />;
}
